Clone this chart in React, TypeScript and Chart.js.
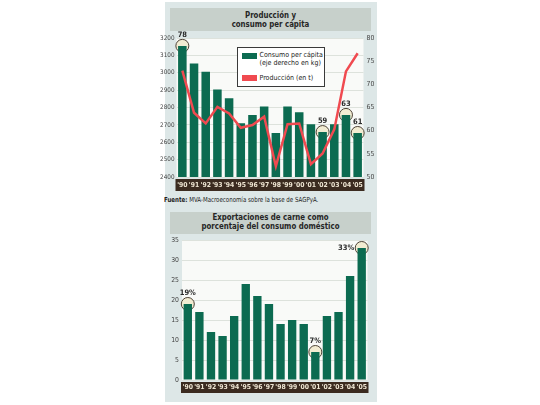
import React, { useEffect, useRef } from "react";
import { Chart, registerables } from "chart.js";

Chart.register(...registerables);

// ---------- data ----------
const years = ["'90", "'91", "'92", "'93", "'94", "'95", "'96", "'97", "'98", "'99", "'00", "'01", "'02", "'03", "'04", "'05"];
// Consumo per cápita (kg, right axis)
const consumoPerCapita = [78.3, 74.5, 72.7, 68.9, 67.0, 61.6, 63.4, 65.2, 59.5, 65.2, 64.0, 61.4, 59.7, 61.4, 63.4, 59.5];
// Producción (miles de t, left axis)
const produccion = [3012, 2770, 2708, 2804, 2766, 2683, 2699, 2747, 2462, 2704, 2708, 2474, 2535, 2674, 3008, 3112];
// Exportaciones como % del consumo doméstico
const exportPct = [19, 17, 12, 11, 16, 24, 21, 19, 14, 15, 14, 7, 16, 17, 26, 33];

const topLeftMin = 2400, topLeftMax = 3200, topLeftStep = 100;
const topRightMin = 50, topRightMax = 80, topRightStep = 5;
const bottomMin = 0, bottomMax = 35, bottomStep = 5;

const topMarkIndex = [0, 12, 14, 15];
const topMarkText = ["78", "59", "63", "61"];
const bottomMarkIndex = [0, 11, 15];
const bottomMarkText = ["19%", "7%", "33%"];
const bottomMarkSide = ["top", "top", "left"];

// ---------- styles ----------
const GREEN = "#0c6b51";
const RED = "#f04a50";
const BAND = "#3b2b20";
const PANEL = "#dde7e7";
const TITLEBOX = "#c7d0cb";
const NARROW = '"Liberation Sans Narrow", "DejaVu Sans Condensed", "Arial Narrow", sans-serif';

function framePlugin(bandGap: number, bandH: number) {
  return {
    id: "frame",
    beforeDraw(chart: any) {
      const { ctx, chartArea: a } = chart;
      ctx.save();
      ctx.fillStyle = "#f9faf8";
      ctx.fillRect(a.left, a.top, a.right - a.left, a.bottom - a.top);
      ctx.fillStyle = BAND;
      ctx.fillRect(a.left - 1, a.bottom + bandGap, a.right - a.left + 2, bandH);
      ctx.restore();
    },
  };
}

function marksPlugin(dsIndex: number, idx: number[], texts: string[], sides: string[] | null, r: number) {
  return {
    id: "marks",
    beforeDatasetsDraw(chart: any) {
      const meta = chart.getDatasetMeta(dsIndex);
      const ctx = chart.ctx;
      ctx.save();
      idx.forEach((i) => {
        const el = meta.data[i];
        ctx.beginPath();
        ctx.arc(el.x, el.y, r, 0, Math.PI * 2);
        ctx.fillStyle = "#f2ecd2";
        ctx.fill();
        ctx.lineWidth = 1;
        ctx.strokeStyle = "#4d4236";
        ctx.stroke();
      });
      ctx.restore();
    },
    afterDatasetsDraw(chart: any) {
      const meta = chart.getDatasetMeta(dsIndex);
      const ctx = chart.ctx;
      ctx.save();
      ctx.font = `bold 7.5px ${NARROW}`;
      ctx.fillStyle = "#2b2b2b";
      idx.forEach((i, k) => {
        const el = meta.data[i];
        const side = sides ? sides[k] : "top";
        if (side === "left") {
          ctx.textAlign = "right";
          ctx.textBaseline = "middle";
          ctx.fillText(texts[k], el.x - r - 1, el.y);
        } else {
          ctx.textAlign = "center";
          ctx.textBaseline = "bottom";
          ctx.fillText(texts[k], el.x, el.y - r - 1);
        }
      });
      ctx.restore();
    },
  };
}

const plainTick = (v: any) => String(v);

function TopChart() {
  const ref = useRef<HTMLCanvasElement>(null);
  useEffect(() => {
    const chart = new Chart(ref.current as HTMLCanvasElement, {
      type: "bar",
      data: {
        labels: years,
        datasets: [
          {
            type: "line",
            label: "Producción (en t)",
            data: produccion,
            yAxisID: "y",
            borderColor: RED,
            borderWidth: 2.5,
            pointRadius: 0,
            tension: 0,
            order: 0,
          } as any,
          {
            type: "bar",
            label: "Consumo per cápita (eje derecho en kg)",
            data: consumoPerCapita,
            yAxisID: "y1",
            backgroundColor: GREEN,
            barPercentage: 0.73,
            categoryPercentage: 1,
            order: 1,
          } as any,
        ],
      },
      options: {
        animation: false,
        responsive: false,
        maintainAspectRatio: false,
        layout: { padding: { top: 8, left: 0, right: 0, bottom: 0 } },
        plugins: { legend: { display: false }, tooltip: { enabled: false } },
        scales: {
          x: {
            grid: { display: false, drawTicks: false },
            border: { display: false },
            ticks: { color: "#efe6d3", font: { family: NARROW, size: 6.8, weight: "bold" }, padding: 4, maxRotation: 0, autoSkip: false },
            afterFit: (s: any) => { s.height = 18; },
          },
          y: {
            position: "left",
            min: topLeftMin,
            max: topLeftMax,
            ticks: { stepSize: topLeftStep, color: "#444", font: { family: NARROW, size: 6.3 }, padding: 2, callback: plainTick },
            grid: { color: "#dde2dc", drawTicks: false },
            border: { display: false },
            afterFit: (s: any) => { s.width = 16.5; },
          },
          y1: {
            position: "right",
            min: topRightMin,
            max: topRightMax,
            ticks: { stepSize: topRightStep, color: "#444", font: { family: NARROW, size: 6.8 }, padding: 3, callback: plainTick },
            grid: { display: false, drawTicks: false },
            border: { display: false },
            afterFit: (s: any) => { s.width = 14.5; },
          },
        },
      } as any,
      plugins: [framePlugin(2, 12), marksPlugin(1, topMarkIndex, topMarkText, null, 6.5)],
    });
    return () => chart.destroy();
  }, []);
  return <canvas ref={ref} width={218} height={165} style={{ position: "absolute", left: 160, top: 30, width: 218, height: 165 }} />;
}

function BottomChart() {
  const ref = useRef<HTMLCanvasElement>(null);
  useEffect(() => {
    const chart = new Chart(ref.current as HTMLCanvasElement, {
      type: "bar",
      data: {
        labels: years,
        datasets: [
          {
            label: "Exportaciones (% del consumo doméstico)",
            data: exportPct,
            backgroundColor: GREEN,
            barPercentage: 0.72,
            categoryPercentage: 1,
          },
        ],
      },
      options: {
        animation: false,
        responsive: false,
        maintainAspectRatio: false,
        layout: { padding: { top: 8, left: 0, right: 10.5, bottom: 0 } },
        plugins: { legend: { display: false }, tooltip: { enabled: false } },
        scales: {
          x: {
            grid: { display: false, drawTicks: false },
            border: { display: false },
            ticks: { color: "#efe6d3", font: { family: NARROW, size: 6.8, weight: "bold" }, padding: 3.5, maxRotation: 0, autoSkip: false },
            afterFit: (s: any) => { s.height = 22; },
          },
          y: {
            min: bottomMin,
            max: bottomMax,
            ticks: { stepSize: bottomStep, color: "#444", font: { family: NARROW, size: 6.8 }, padding: 3, callback: plainTick },
            grid: { color: "#dde2dc", drawTicks: false },
            border: { display: false },
            afterFit: (s: any) => { s.width = 22; },
          },
        },
      } as any,
      plugins: [framePlugin(2, 11), marksPlugin(0, bottomMarkIndex, bottomMarkText, bottomMarkSide, 6.5)],
    });
    return () => chart.destroy();
  }, []);
  return <canvas ref={ref} width={218} height={170} style={{ position: "absolute", left: 160, top: 232, width: 218, height: 170 }} />;
}

export default function App() {
  const boxStyle: React.CSSProperties = {
    position: "absolute",
    left: 170,
    width: 201,
    background: TITLEBOX,
  };
  const titleText: React.CSSProperties = {
    position: "absolute",
    left: 0,
    right: 0,
    color: "#262626",
    fontFamily: NARROW,
    fontWeight: "bold",
    fontSize: 9.5,
    lineHeight: "9.3px",
    textAlign: "center",
    whiteSpace: "nowrap",
    transform: "scaleX(0.82)",
    transformOrigin: "50% 50%",
  };
  return (
    <div style={{ position: "fixed", left: 0, top: 0, width: 540, height: 405, background: "#ffffff", overflow: "hidden" }}>
      <div style={{ position: "absolute", left: 165, top: 2, width: 212, height: 400, background: PANEL }} />
      <div style={{ ...boxStyle, top: 8, height: 23 }}>
        <div style={{ ...titleText, top: 2 }}>
          Producción y<br />consumo per cápita
        </div>
      </div>
      <TopChart />
      <div
        style={{
          position: "absolute",
          left: 237,
          top: 47,
          width: 88,
          height: 40,
          background: "#ffffff",
          border: "1px solid #3a3a3a",
          boxSizing: "border-box",
          fontFamily: NARROW,
          fontSize: 7,
          color: "#222",
        }}
      >
        <div style={{ position: "absolute", left: 4, top: 5, width: 15, height: 6, background: GREEN }} />
        <div style={{ position: "absolute", left: 21.5, top: 3, lineHeight: "8px", whiteSpace: "nowrap" }}>
          Consumo per cápita<br />(eje derecho en kg)
        </div>
        <div style={{ position: "absolute", left: 4, top: 27, width: 15, height: 6, background: RED }} />
        <div style={{ position: "absolute", left: 21.5, top: 26, lineHeight: "8px", whiteSpace: "nowrap" }}>Producción (en t)</div>
      </div>
      <div
        style={{
          position: "absolute",
          left: 164,
          top: 196,
          fontFamily: NARROW,
          fontSize: 7,
          color: "#222",
          whiteSpace: "nowrap",
          transform: "scaleX(0.87)",
          transformOrigin: "0 50%",
        }}
      >
        <b>Fuente:</b> MVA-Macroeconomía sobre la base de SAGPyA.
      </div>
      <div style={{ ...boxStyle, top: 211.5, height: 22.5 }}>
        <div style={{ ...titleText, top: 0.5 }}>
          Exportaciones de carne como<br />porcentaje del consumo doméstico
        </div>
      </div>
      <BottomChart />
    </div>
  );
}
